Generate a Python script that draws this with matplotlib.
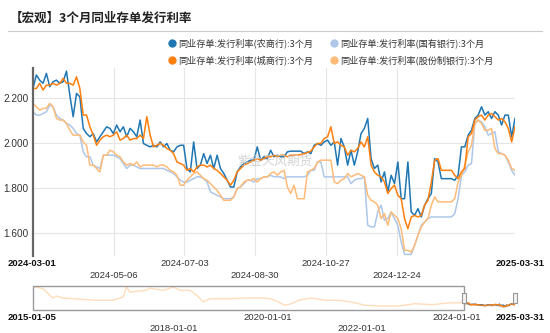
import matplotlib
matplotlib.use("Agg")
import matplotlib.pyplot as plt
from matplotlib.lines import Line2D
from matplotlib.patches import Rectangle
import pandas as pd

plt.rcParams['font.family'] = ['Noto Sans CJK SC', 'DejaVu Sans']

# 3M interbank CD issuance rates, sampled every ~2.7 days
dates = pd.date_range('2024-03-01', '2025-03-31', periods=145)

rate_rcb = [  # 农商行
    2.241, 2.301, 2.278, 2.264, 2.308, 2.249, 2.271, 2.278, 2.264, 2.271, 2.318, 2.212,
    2.116, 2.219, 2.204, 2.064, 2.041, 2.027, 2.041, 2.004, 2.027, 2.049, 2.071, 2.064,
    2.041, 2.079, 2.049, 2.071, 2.027, 2.064, 2.049, 2.027, 2.101, 1.997, 1.989, 1.982,
    1.989, 1.982, 2.004, 1.982, 1.997, 1.967, 1.960, 1.982, 1.989, 1.989, 1.886, 1.871,
    2.004, 1.886, 1.901, 1.952, 1.908, 1.945, 1.886, 1.945, 1.886, 1.864, 1.834, 1.804,
    1.804, 1.871, 1.893, 1.908, 1.915, 1.923, 1.923, 1.982, 1.923, 1.938, 1.930, 1.967,
    1.938, 1.945, 1.938, 1.938, 1.960, 1.963, 1.963, 1.963, 1.963, 1.952, 1.960, 1.952,
    1.989, 1.997, 1.989, 2.004, 2.012, 1.989, 2.004, 1.901, 2.019, 1.982, 1.901, 1.967,
    1.901, 1.960, 2.041, 2.064, 2.108, 1.930, 1.886, 1.901, 1.826, 1.871, 1.782, 1.856,
    1.819, 1.915, 1.752, 1.752, 1.915, 1.693, 1.678, 1.708, 1.671, 1.723, 1.752, 1.775,
    1.930, 1.915, 1.841, 1.841, 1.841, 1.841, 1.834, 1.856, 1.982, 1.982, 2.034, 2.056,
    2.108, 2.123, 2.160, 2.123, 2.138, 2.108, 2.138, 2.123, 2.079, 2.123, 2.123, 2.027,
    2.108]
rate_ccb = [  # 城商行
    2.241, 2.241, 2.264, 2.234, 2.256, 2.256, 2.264, 2.256, 2.264, 2.286, 2.264, 2.264,
    2.256, 2.293, 2.241, 2.123, 2.123, 2.071, 2.034, 1.989, 2.012, 2.027, 2.034, 2.027,
    2.034, 2.049, 2.012, 2.019, 2.034, 2.012, 2.019, 2.019, 2.034, 2.019, 2.116, 2.034,
    1.982, 1.989, 1.997, 1.989, 1.975, 1.967, 1.952, 1.915, 1.908, 1.901, 1.878, 1.886,
    1.871, 1.893, 1.901, 1.901, 1.893, 1.901, 1.886, 1.878, 1.864, 1.849, 1.834, 1.812,
    1.834, 1.871, 1.886, 1.901, 1.908, 1.915, 1.923, 1.930, 1.923, 1.930, 1.938, 1.938,
    1.945, 1.938, 1.945, 1.945, 1.938, 1.945, 1.945, 1.945, 1.948, 1.952, 1.957, 1.963,
    1.982, 1.997, 1.997, 2.019, 2.027, 2.071, 1.997, 2.004, 1.989, 1.982, 1.945, 1.967,
    1.960, 1.975, 2.004, 1.982, 2.027, 1.901, 1.871, 1.856, 1.849, 1.826, 1.775, 1.797,
    1.812, 1.767, 1.752, 1.664, 1.619, 1.671, 1.678, 1.671, 1.678, 1.723, 1.745, 1.826,
    1.923, 1.930, 1.878, 1.878, 1.878, 1.878, 1.856, 1.841, 1.871, 1.886, 2.027, 2.041,
    2.101, 2.116, 2.123, 2.101, 2.123, 2.130, 2.116, 2.101, 2.108, 2.093, 2.064, 2.004,
    2.071]
rate_soe = [  # 国有银行
    2.138, 2.123, 2.123, 2.130, 2.138, 2.167, 2.160, 2.123, 2.108, 2.101, 2.086, 2.079,
    2.064, 2.041, 2.034, 1.960, 1.938, 1.938, 1.901, 1.893, 1.886, 1.945, 1.945, 1.945,
    1.945, 1.938, 1.930, 1.908, 1.886, 1.901, 1.901, 1.893, 1.886, 1.886, 1.886, 1.886,
    1.886, 1.886, 1.886, 1.886, 1.878, 1.871, 1.864, 1.849, 1.834, 1.826, 1.826, 1.834,
    1.841, 1.849, 1.849, 1.841, 1.826, 1.782, 1.775, 1.767, 1.760, 1.752, 1.752, 1.752,
    1.760, 1.797, 1.804, 1.819, 1.834, 1.834, 1.826, 1.841, 1.841, 1.849, 1.849, 1.856,
    1.849, 1.849, 1.849, 1.841, 1.849, 1.849, 1.849, 1.849, 1.849, 1.849, 1.856, 1.878,
    1.878, 1.915, 1.915, 1.849, 1.849, 1.849, 1.849, 1.849, 1.849, 1.849, 1.849, 1.819,
    1.834, 1.841, 1.841, 1.849, 1.634, 1.627, 1.627, 1.693, 1.723, 1.656, 1.664, 1.693,
    1.664, 1.634, 1.560, 1.505, 1.505, 1.505, 1.545, 1.590, 1.634, 1.649, 1.664, 1.671,
    1.671, 1.671, 1.671, 1.671, 1.671, 1.671, 1.686, 1.752, 1.856, 1.871, 1.901, 1.908,
    2.086, 2.101, 2.093, 2.071, 2.034, 2.041, 2.049, 1.960, 1.952, 1.945, 1.915, 1.878,
    1.856]
rate_jsb = [  # 股份制银行
    2.175, 2.160, 2.145, 2.153, 2.153, 2.175, 2.160, 2.108, 2.101, 2.101, 2.086, 2.056,
    2.034, 2.034, 2.034, 2.004, 1.989, 1.901, 1.901, 1.886, 1.871, 1.945, 1.945, 1.967,
    1.960, 1.945, 1.938, 1.915, 1.901, 1.908, 1.901, 1.915, 1.893, 1.901, 1.901, 1.901,
    1.901, 1.893, 1.901, 1.901, 1.893, 1.878, 1.871, 1.856, 1.812, 1.812, 1.834, 1.849,
    1.864, 1.871, 1.856, 1.841, 1.834, 1.819, 1.804, 1.789, 1.767, 1.745, 1.745, 1.745,
    1.760, 1.797, 1.804, 1.826, 1.834, 1.834, 1.841, 1.826, 1.841, 1.849, 1.849, 1.864,
    1.871, 1.856, 1.871, 1.878, 1.804, 1.775, 1.812, 1.752, 1.752, 1.752, 1.871, 1.878,
    1.886, 1.915, 1.923, 1.923, 1.923, 1.923, 1.826, 1.819, 1.834, 1.841, 1.864, 1.849,
    1.856, 1.864, 1.856, 1.849, 1.767, 1.745, 1.738, 1.723, 1.664, 1.686, 1.634, 1.693,
    1.678, 1.664, 1.619, 1.523, 1.523, 1.515, 1.545, 1.590, 1.627, 1.649, 1.664, 1.723,
    1.760, 1.738, 1.738, 1.738, 1.738, 1.738, 1.752, 1.826, 1.856, 1.901, 1.960, 1.989,
    2.086, 2.101, 2.086, 2.056, 2.056, 2.064, 1.975, 1.952, 1.952, 1.945, 1.923, 1.886,
    1.878]

# longer history shown in the navigator strip
nav_dates = pd.to_datetime([
    '2015-01-05', '2015-01-20', '2015-03-25', '2015-05-15', '2015-06-10', '2015-07-05',
    '2015-08-25', '2016-01-05', '2016-05-10', '2016-09-15', '2016-12-05', '2016-12-30',
    '2017-01-25', '2017-06-01', '2017-06-28', '2017-10-10', '2017-12-28', '2018-02-18',
    '2018-05-05', '2018-06-28', '2018-08-18', '2018-10-08', '2019-03-10', '2019-07-20',
    '2019-11-25', '2020-01-15', '2020-02-25', '2020-05-10', '2020-07-01', '2020-08-22',
    '2020-12-05', '2021-03-18', '2021-06-28', '2021-10-10', '2022-01-22', '2022-06-01',
    '2022-10-10', '2023-02-15', '2023-06-25', '2023-11-01', '2024-02-10', '2024-03-01'])
nav_rates = [
    5.15, 5.22, 4.91, 3.70, 3.20, 3.57, 3.20, 2.97, 2.78, 2.78, 3.39, 5.22,
    4.30, 4.61, 5.03, 4.61, 5.22, 4.61, 4.61, 3.70, 2.47, 3.08, 3.08, 3.20,
    3.20, 3.08, 2.78, 1.87, 2.16, 2.78, 3.20, 2.78, 2.78, 2.47, 1.87, 1.74,
    1.74, 2.16, 1.98, 2.29, 2.35, 2.20]

series = [
    ('同业存单:发行利率(国有银行):3个月', rate_soe, '#aec7e8'),
    ('同业存单:发行利率(股份制银行):3个月', rate_jsb, '#ffbb78'),
    ('同业存单:发行利率(农商行):3个月', rate_rcb, '#1f77b4'),
    ('同业存单:发行利率(城商行):3个月', rate_ccb, '#ff7f0e'),
]

grid_dates = pd.to_datetime(['2024-05-06', '2024-07-03', '2024-08-30', '2024-10-27', '2024-12-24'])
y_ticks = [1.6, 1.8, 2.0, 2.2]

W, H = 550, 333
fig = plt.figure(figsize=(W / 100, H / 100), dpi=100)

# title and rule
fig.text(10 / W, 1 - 18 / H, '【宏观】3个月同业存单发行利率', fontsize=9, fontweight='bold',
         color='#222222', va='center', ha='left')
fig.add_artist(Line2D([8 / W, 542 / W], [1 - 31 / H, 1 - 31 / H], color='#cccccc', lw=0.8))

# legend
leg_items = [
    (172, 43, '同业存单:发行利率(农商行):3个月', '#1f77b4'),
    (334, 43, '同业存单:发行利率(国有银行):3个月', '#aec7e8'),
    (172, 60, '同业存单:发行利率(城商行):3个月', '#ff7f0e'),
    (334, 60, '同业存单:发行利率(股份制银行):3个月', '#ffbb78'),
]
for lx, ly, txt, col in leg_items:
    fig.add_artist(Line2D([lx / W], [1 - ly / H], marker='o', markersize=6, color=col,
                          markeredgewidth=0))
    fig.text((lx + 6) / W, 1 - ly / H, txt, fontsize=6.6, color='#333333', va='center', ha='left')

# main panel
ax = fig.add_axes([33 / W, 1 - 255.5 / H, 482 / W, 187.5 / H])
for name, vals, col in series:
    ax.plot(dates, vals, color=col, lw=1.1)
ax.set_xlim(pd.Timestamp('2024-03-01'), pd.Timestamp('2025-03-31'))
ax.set_ylim(1.5, 2.332)
ax.set_yticks(y_ticks)
ax.set_yticklabels(['%.3f' % v for v in y_ticks], fontsize=7.2, family='Liberation Sans',
                   color='#333333')
ax.set_xticks(grid_dates)
ax.set_xticklabels([])
ax.tick_params(length=0, pad=3)
ax.grid(True, color='#e6e6e6', lw=0.8)
for s in ['top', 'right', 'bottom']:
    ax.spines[s].set_visible(False)
ax.spines['left'].set_color('#666666')
ax.spines['left'].set_linewidth(1.6)

ax.text(pd.Timestamp('2024-09-15'), 1.919, '紫金天风期货', fontsize=9, color='#c8c8c8',
        alpha=0.8, ha='center', va='center')

xt = ax.get_xaxis_transform()
for i, d in enumerate(grid_dates):
    row_y = -0.109 if i % 2 == 0 else -0.045
    ax.text(d, row_y, d.strftime('%Y-%m-%d'), transform=xt, ha='center', va='center',
            fontsize=6.8, family='Liberation Sans', color='#333333')
fig.text(8 / W, 1 - 264 / H, '2024-03-01', fontsize=6.8, family='Liberation Sans',
         fontweight='bold', ha='left', va='center', color='#111111')
fig.text(545 / W, 1 - 264 / H, '2025-03-31', fontsize=6.8, family='Liberation Sans',
         fontweight='bold', ha='right', va='center', color='#111111')

# navigator
nav = fig.add_axes([33 / W, 1 - 309.5 / H, 482 / W, 23.5 / H])
nav_start, sel_start, sel_end = pd.Timestamp('2015-01-05'), pd.Timestamp('2024-03-01'), pd.Timestamp('2025-03-31')
nav.plot(nav_dates, nav_rates, color='#ffbb78', lw=1.0)
for name, vals, col in series:
    nav.plot(dates, vals, color=col, lw=0.9)
nav.set_xlim(nav_start, sel_end)
nav.set_ylim(1.1, 5.4)
nav.axis('off')
x0 = matplotlib.dates.date2num(nav_start)
x1 = matplotlib.dates.date2num(sel_start)
nav.add_patch(Rectangle((x0, 0), x1 - x0, 1, transform=nav.get_xaxis_transform(),
                        facecolor='white', alpha=0.5, edgecolor='none', zorder=3))
nav.add_patch(Rectangle((x0, 0), x1 - x0, 1, transform=nav.get_xaxis_transform(),
                        facecolor='none', edgecolor='#999999', lw=1.0, zorder=4, clip_on=False))
handle = [(-0.35, -1), (0.35, -1), (0.35, 1), (-0.35, 1), (-0.35, -1)]
for d in [sel_start, sel_end]:
    nav.plot([d], [0.49], transform=nav.get_xaxis_transform(), marker=handle, markersize=7.5,
             markerfacecolor='#f2f2f2', markeredgecolor='#999999', markeredgewidth=0.8,
             zorder=5, clip_on=False)

nxt = nav.get_xaxis_transform()
for d, row in [('2020-01-01', 0), ('2024-01-01', 0), ('2018-01-01', 1), ('2022-01-01', 1)]:
    nav.text(pd.Timestamp(d), -0.32 - 0.47 * row, d, transform=nxt, ha='center', va='center',
             fontsize=6.8, family='Liberation Sans', color='#333333')
fig.text(8 / W, 1 - 317 / H, '2015-01-05', fontsize=6.8, family='Liberation Sans',
         fontweight='bold', ha='left', va='center', color='#111111')
fig.text(545 / W, 1 - 317 / H, '2025-03-31', fontsize=6.8, family='Liberation Sans',
         fontweight='bold', ha='right', va='center', color='#111111')

fig.savefig('out.png', dpi=100)
